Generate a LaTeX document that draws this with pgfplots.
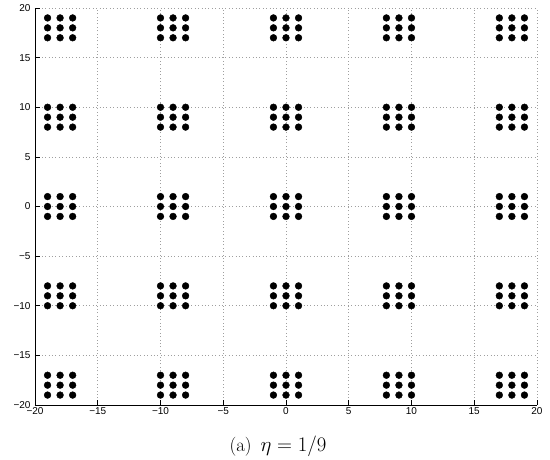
\documentclass[border=0pt]{standalone}
\usepackage{pgfplots}
\pgfplotsset{compat=1.18}
\usepackage{fontspec}
\newfontfamily\tickfont{Liberation Sans}
\begin{document}
\begin{tikzpicture}[x=1pt,y=1pt]
\useasboundingbox (0,0) rectangle (550,459);
\begin{axis}[
  at={(35pt,54pt)}, anchor=south west,
  scale only axis, width=502pt, height=397pt,
  xmin=-20, xmax=20, ymin=-20, ymax=20,
  axis x line*=bottom, axis y line*=left,
  axis line style={line width=0.8pt, -},
  xtick={-20,-15,...,20}, ytick={-20,-15,...,20},
  xticklabels={−20,−15,−10,−5,0,5,10,15,20},
  yticklabels={−20,−15,−10,−5,0,5,10,15,20},
  tick align=inside, major tick length=5pt,
  tick style={line width=0.6pt, black},
  ticklabel style={font=\tickfont\fontsize{10}{12}\selectfont},
  xticklabel style={yshift=1pt},
  yticklabel style={xshift=-1pt},
  grid=major,
  major grid style={dash pattern=on 0.8pt off 2.6pt, line width=0.7pt, gray!75},
  clip=false,
]
\addplot[only marks, mark=*, mark size=3.4pt, black] coordinates {
(-19,19) (-18,19) (-17,19) (-10,19) (-9,19) (-8,19) (-1,19) (0,19) (1,19) (8,19) (9,19) (10,19) (17,19) (18,19) (19,19)
(-19,18) (-18,18) (-17,18) (-10,18) (-9,18) (-8,18) (-1,18) (0,18) (1,18) (8,18) (9,18) (10,18) (17,18) (18,18) (19,18)
(-19,17) (-18,17) (-17,17) (-10,17) (-9,17) (-8,17) (-1,17) (0,17) (1,17) (8,17) (9,17) (10,17) (17,17) (18,17) (19,17)
(-19,10) (-18,10) (-17,10) (-10,10) (-9,10) (-8,10) (-1,10) (0,10) (1,10) (8,10) (9,10) (10,10) (17,10) (18,10) (19,10)
(-19,9) (-18,9) (-17,9) (-10,9) (-9,9) (-8,9) (-1,9) (0,9) (1,9) (8,9) (9,9) (10,9) (17,9) (18,9) (19,9)
(-19,8) (-18,8) (-17,8) (-10,8) (-9,8) (-8,8) (-1,8) (0,8) (1,8) (8,8) (9,8) (10,8) (17,8) (18,8) (19,8)
(-19,1) (-18,1) (-17,1) (-10,1) (-9,1) (-8,1) (-1,1) (0,1) (1,1) (8,1) (9,1) (10,1) (17,1) (18,1) (19,1)
(-19,0) (-18,0) (-17,0) (-10,0) (-9,0) (-8,0) (-1,0) (0,0) (1,0) (8,0) (9,0) (10,0) (17,0) (18,0) (19,0)
(-19,-1) (-18,-1) (-17,-1) (-10,-1) (-9,-1) (-8,-1) (-1,-1) (0,-1) (1,-1) (8,-1) (9,-1) (10,-1) (17,-1) (18,-1) (19,-1)
(-19,-8) (-18,-8) (-17,-8) (-10,-8) (-9,-8) (-8,-8) (-1,-8) (0,-8) (1,-8) (8,-8) (9,-8) (10,-8) (17,-8) (18,-8) (19,-8)
(-19,-9) (-18,-9) (-17,-9) (-10,-9) (-9,-9) (-8,-9) (-1,-9) (0,-9) (1,-9) (8,-9) (9,-9) (10,-9) (17,-9) (18,-9) (19,-9)
(-19,-10) (-18,-10) (-17,-10) (-10,-10) (-9,-10) (-8,-10) (-1,-10) (0,-10) (1,-10) (8,-10) (9,-10) (10,-10) (17,-10) (18,-10) (19,-10)
(-19,-17) (-18,-17) (-17,-17) (-10,-17) (-9,-17) (-8,-17) (-1,-17) (0,-17) (1,-17) (8,-17) (9,-17) (10,-17) (17,-17) (18,-17) (19,-17)
(-19,-18) (-18,-18) (-17,-18) (-10,-18) (-9,-18) (-8,-18) (-1,-18) (0,-18) (1,-18) (8,-18) (9,-18) (10,-18) (17,-18) (18,-18) (19,-18)
(-19,-19) (-18,-19) (-17,-19) (-10,-19) (-9,-19) (-8,-19) (-1,-19) (0,-19) (1,-19) (8,-19) (9,-19) (10,-19) (17,-19) (18,-19) (19,-19)
};
\end{axis}
\node[font=\fontsize{19}{22}\selectfont, anchor=base] at (278,8) {(a)\hspace{9pt}{\fontsize{21}{24}\selectfont$\eta=1/9$}};
\end{tikzpicture}
\end{document}
